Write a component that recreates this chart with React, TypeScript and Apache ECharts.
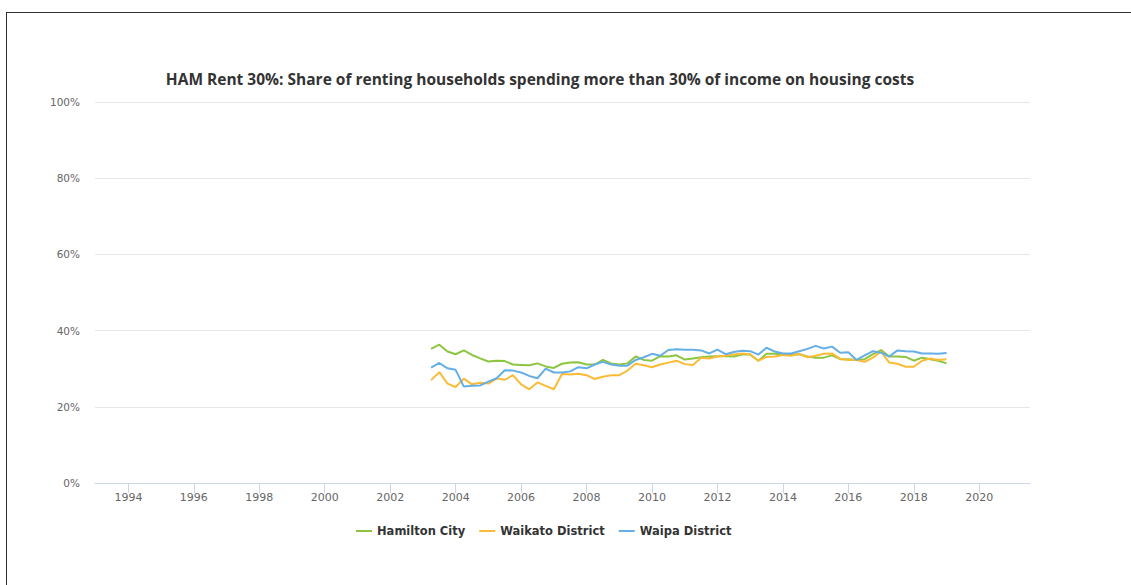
import React, { useEffect, useRef } from "react";
import * as echarts from "echarts";

const TITLE = "HAM Rent 30%: Share of renting households spending more than 30% of income on housing costs";
const FIRST_QUARTER = 2003.25;
const YEAR_TICKS = [1994, 1996, 1998, 2000, 2002, 2004, 2006, 2008, 2010, 2012, 2014, 2016, 2018, 2020];
const PCT_TICKS = [0, 20, 40, 60, 80, 100];

const SERIES_NAMES = ["Hamilton City", "Waikato District", "Waipa District"];
const SERIES_COLORS = ["#8cc540", "#fbbb36", "#65aee6"];

const hamilton = [
  35.2, 36.3, 34.5, 33.8, 34.8, 33.6, 32.7, 31.9, 32.1, 32.0, 31.1, 31.0, 30.9, 31.4, 30.6, 30.2,
  31.3, 31.6, 31.7, 31.1, 31.1, 32.3, 31.4, 31.1, 31.4, 33.2, 32.3, 32.1, 33.3, 33.2, 33.5, 32.4,
  32.7, 33.0, 33.2, 33.3, 33.3, 33.2, 33.7, 33.7, 32.1, 33.9, 33.9, 33.8, 33.7, 33.8, 33.2, 32.9,
  32.9, 33.5, 32.5, 32.5, 32.3, 32.5, 33.8, 34.9, 33.2, 33.2, 33.1, 32.1, 32.9, 32.5, 32.1, 31.4,
];
const waikato = [
  27.0, 29.1, 26.1, 25.2, 27.4, 25.9, 26.3, 26.1, 27.4, 27.1, 28.3, 25.9, 24.6, 26.4, 25.5, 24.6,
  28.6, 28.5, 28.7, 28.3, 27.3, 27.9, 28.3, 28.3, 29.5, 31.3, 30.9, 30.4, 31.1, 31.6, 32.1, 31.2,
  31.0, 32.9, 32.7, 33.2, 33.4, 33.7, 34.0, 33.8, 32.1, 33.1, 33.2, 33.6, 33.4, 33.9, 33.0, 33.4,
  33.9, 34.0, 32.6, 32.3, 32.3, 31.8, 32.9, 34.5, 31.6, 31.3, 30.5, 30.5, 32.1, 32.7, 32.3, 32.5,
];
const waipa = [
  30.3, 31.5, 30.1, 29.7, 25.3, 25.5, 25.6, 26.6, 27.5, 29.6, 29.5, 29.0, 28.1, 27.5, 30.0, 29.0,
  29.0, 29.3, 30.4, 30.1, 31.1, 31.8, 31.1, 30.8, 30.8, 32.3, 33.0, 33.9, 33.4, 34.9, 35.1, 35.0,
  35.0, 34.8, 34.0, 35.0, 33.8, 34.4, 34.7, 34.6, 33.7, 35.5, 34.5, 34.0, 34.0, 34.6, 35.2, 36.0,
  35.3, 35.8, 34.2, 34.3, 32.3, 33.5, 34.6, 34.2, 33.2, 34.8, 34.6, 34.5, 34.0, 34.0, 33.9, 34.1,
];

const SERIES_VALUES = [hamilton, waikato, waipa];

export default function App() {
  const ref = useRef<HTMLDivElement>(null);

  useEffect(() => {
    if (!ref.current) return;
    const chart = echarts.init(ref.current, undefined, { renderer: "svg" });
    const series = SERIES_VALUES.map((vals, si) => ({
      name: SERIES_NAMES[si],
      type: "line",
      showSymbol: false,
      symbol: "none",
      lineStyle: { width: 2, color: SERIES_COLORS[si] },
      itemStyle: { color: SERIES_COLORS[si] },
      data: vals.map((v, i) => [FIRST_QUARTER + i * 0.25, v]),
    }));
    chart.setOption({
      animation: false,
      backgroundColor: "transparent",
      title: {
        text: TITLE,
        left: 535,
        textAlign: "center",
        top: 66,
        textStyle: { fontFamily: "Open Sans", fontWeight: "bold", fontSize: 15.5, color: "#333333" },
      },
      legend: {
        left: 356,
        top: 525,
        padding: 0,
        itemGap: 14,
        itemWidth: 16,
        itemHeight: 2,
        icon: "rect",
        data: SERIES_NAMES,
        textStyle: { fontFamily: "DejaVu Sans", fontWeight: "bold", fontSize: 11.5, color: "#333333" },
      },
      grid: { left: 95, right: 101, top: 102, bottom: 102, containLabel: false },
      xAxis: {
        type: "value",
        min: 1992.98,
        max: 2021.55,
        splitLine: { show: false },
        axisLine: { show: true, lineStyle: { color: "#ccd6eb", width: 1 } },
        axisTick: { show: true, length: 10, lineStyle: { color: "#ccd6eb" }, customValues: YEAR_TICKS },
        axisLabel: {
          customValues: YEAR_TICKS,
          formatter: (v: number) => String(Math.round(v)),
          fontFamily: "DejaVu Sans",
          fontSize: 11,
          color: "#666666",
          margin: 9,
        },
      },
      yAxis: {
        type: "value",
        min: 0,
        max: 100,
        interval: 20,
        axisLine: { show: false },
        axisTick: { show: false },
        splitLine: { show: true, lineStyle: { color: "#e6e6e6", width: 1 } },
        axisLabel: {
          customValues: PCT_TICKS,
          formatter: (v: number) => v + "%",
          fontFamily: "DejaVu Sans",
          fontSize: 10.5,
          color: "#666666",
          margin: 15,
        },
      },
      series,
    });
    return () => chart.dispose();
  }, []);

  return (
    <div style={{ position: "fixed", left: 0, top: 0, width: 1131, height: 585, overflow: "hidden", background: "#fff" }}>
      <div
        style={{
          position: "absolute",
          left: 6,
          top: 12,
          width: 1200,
          height: 700,
          border: "1px solid #333",
          boxSizing: "border-box",
        }}
      />
      <div ref={ref} style={{ position: "absolute", left: 0, top: 0, width: 1131, height: 585 }} />
    </div>
  );
}
